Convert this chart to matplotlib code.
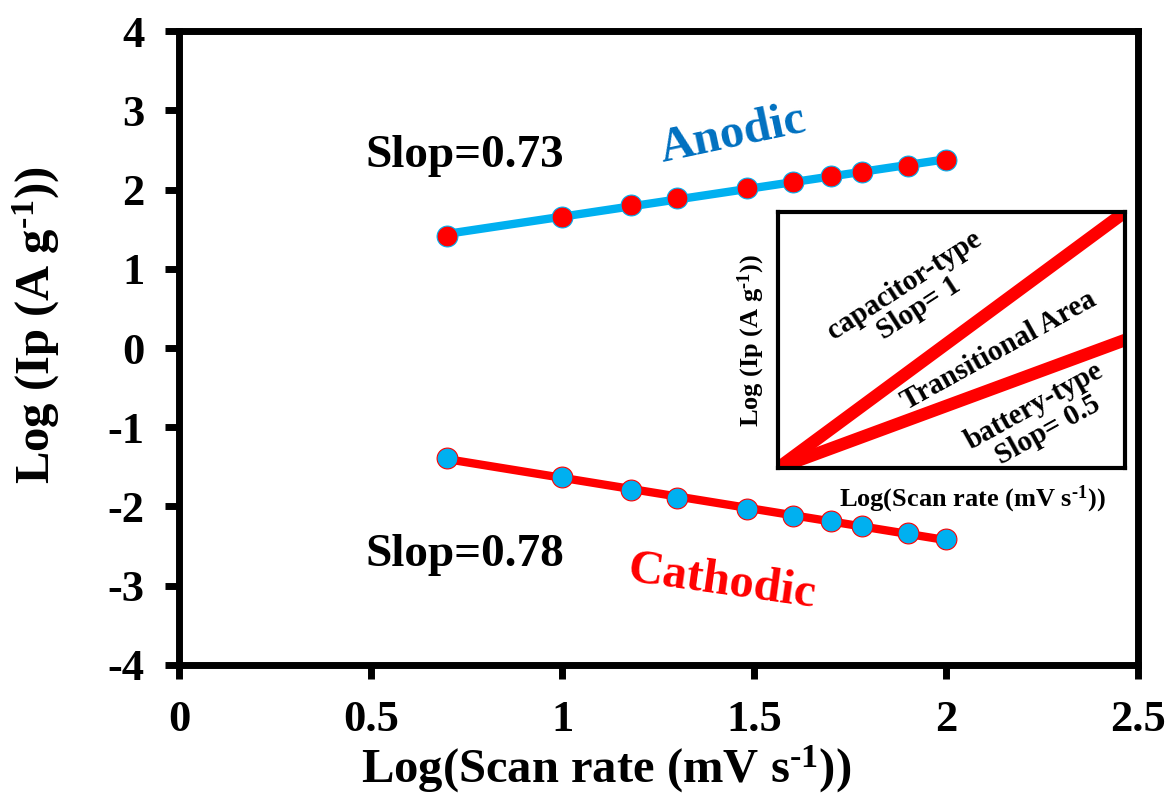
import numpy as np
import matplotlib
matplotlib.use("Agg")
import matplotlib.pyplot as plt

plt.rcParams['font.family'] = ['Liberation Serif', 'DejaVu Serif']
plt.rcParams['font.weight'] = 'bold'
plt.rcParams['axes.unicode_minus'] = False
plt.rcParams['mathtext.fontset'] = 'custom'
plt.rcParams['mathtext.rm'] = 'Liberation Serif:bold'
plt.rcParams['mathtext.bf'] = 'Liberation Serif:bold'
plt.rcParams['mathtext.default'] = 'bf'

# log10 of scan rate (5 ... 100 mV/s)
log_scan = [0.70, 1.00, 1.18, 1.30, 1.48, 1.60, 1.70, 1.78, 1.90, 2.00]
anodic = [1.42, 1.66, 1.80, 1.89, 2.02, 2.10, 2.17, 2.22, 2.30, 2.37]
cathodic = [-1.39, -1.63, -1.79, -1.89, -2.03, -2.12, -2.19, -2.25, -2.34, -2.41]

# inset: schematic
inset_x = [0, 1]
cap_line = [0, 1]
bat_line = [0, 0.5]

BLUE = '#00B0F0'
RED = '#FF0000'
SUP = '$^{\\text{-1}}$'

fig = plt.figure(figsize=(11.74, 8.0), dpi=100)
ax = fig.add_axes([0.1525, 0.169, 0.8165, 0.792])

x = np.array(log_scan)
for y, lc, mc in [(anodic, BLUE, RED), (cathodic, RED, BLUE)]:
    k, b = np.polyfit(x, y, 1)
    ax.plot(x, k * x + b, color=lc, lw=6, solid_capstyle='butt', zorder=2)
    ax.plot(x, y, 'o', ms=15, color=mc, mec=lc, mew=0.8, zorder=3)

ax.set_xlim(0, 2.5)
ax.set_ylim(-4, 4)
ax.set_xticks([0, 0.5, 1, 1.5, 2, 2.5])
ax.set_xticklabels(['0', '0.5', '1', '1.5', '2', '2.5'])
ax.set_yticks(range(-4, 5))
for s in ax.spines.values():
    s.set_linewidth(5)
ax.tick_params(direction='out', length=10, width=5, labelsize=32, pad=15)

ax.set_xlabel('Log(Scan rate (mV s' + SUP + '))', fontsize=35, fontweight='bold')
ax.set_ylabel('Log (Ip (A g' + SUP + '))', fontsize=35, fontweight='bold')
ax.xaxis.set_label_coords(0.446, -0.124)
ax.yaxis.set_label_coords(-0.122, 0.536)

ax.text(0.746, 2.42, 'Slop=0.73', fontsize=34, fontweight='bold',
        ha='center', va='center')
ax.text(0.746, -2.61, 'Slop=0.78', fontsize=34, fontweight='bold',
        ha='center', va='center')
ax.text(1.444, 2.69, 'Anodic', fontsize=35, fontweight='bold', color='#0070C0',
        ha='center', va='center', rotation=12)
ax.text(1.415, -2.96, 'Cathodic', fontsize=35, fontweight='bold', color=RED,
        ha='center', va='center', rotation=-8)

# inset
ins = fig.add_axes([0.6627, 0.415, 0.2956, 0.32])
ins.plot(inset_x, cap_line, color=RED, lw=9, solid_capstyle='butt')
ins.plot(inset_x, bat_line, color=RED, lw=9, solid_capstyle='butt')
ins.set_xlim(0, 1)
ins.set_ylim(0, 1)
ins.set_xticks([])
ins.set_yticks([])
for s in ins.spines.values():
    s.set_linewidth(3)
ins.set_xlabel('Log(Scan rate (mV s' + SUP + '))', fontsize=19,
               fontweight='bold')
ins.set_ylabel('Log (Ip (A g' + SUP + '))', fontsize=19,
               fontweight='bold', labelpad=8)
ins.xaxis.set_label_coords(0.56, -0.06)
ins.text(0.386, 0.668, 'capacitor-type\nSlop= 1', fontsize=21,
         fontweight='bold', ha='center', va='center', rotation=33,
         transform=ins.transAxes, linespacing=1.0)
ins.text(0.637, 0.46, 'Transitional Area', fontsize=21, fontweight='bold',
         ha='center', va='center', rotation=29, transform=ins.transAxes)
ins.text(0.758, 0.195, 'battery-type\nSlop= 0.5', fontsize=21,
         fontweight='bold', ha='center', va='center', rotation=29,
         transform=ins.transAxes, linespacing=1.0)

fig.savefig('out.png', dpi=100, facecolor='white')
